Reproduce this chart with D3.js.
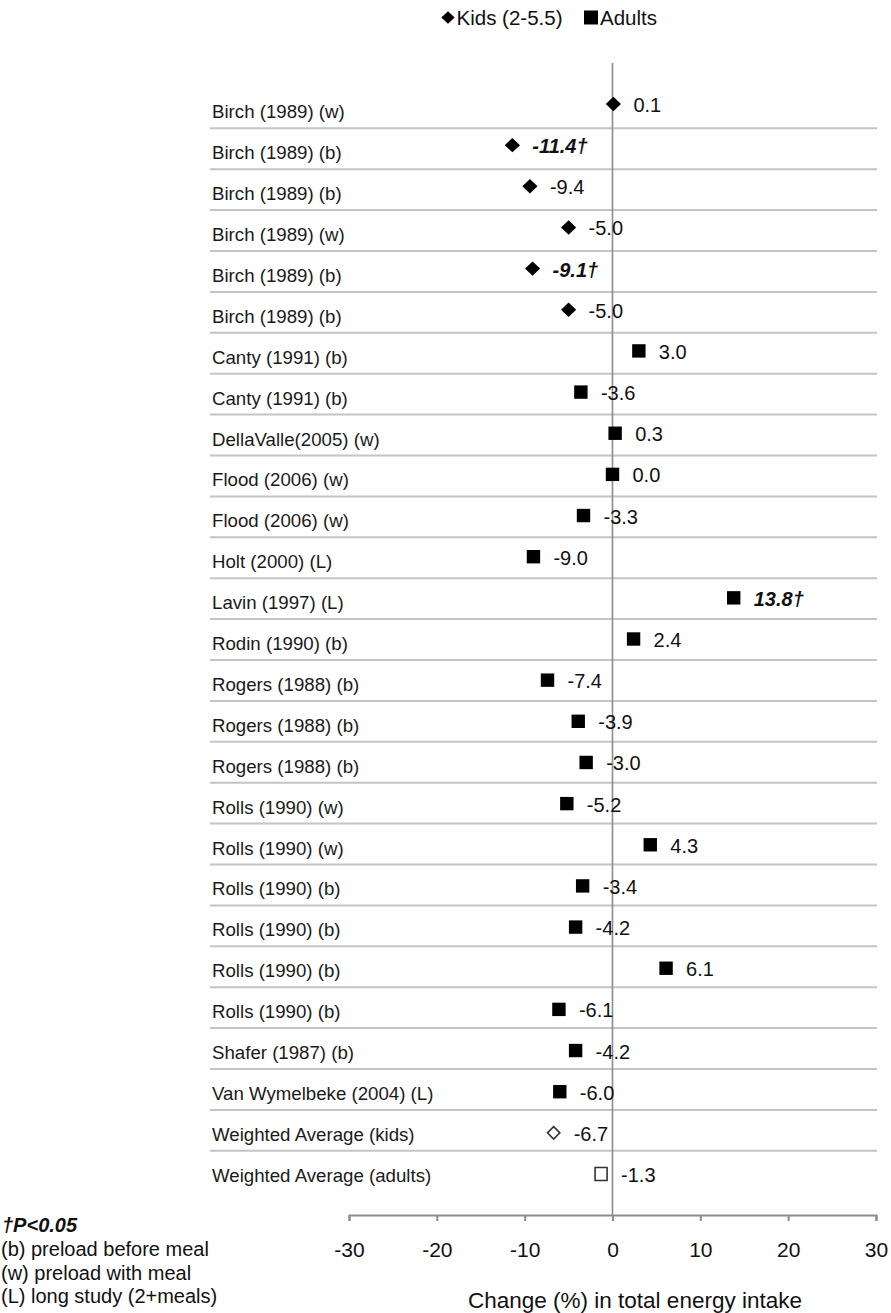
<!DOCTYPE html>
<html>
<head>
<meta charset="utf-8">
<script src="https://cdn.jsdelivr.net/npm/d3@7"></script>
<style>
  html, body { margin: 0; padding: 0; background: #fff; }
  svg { display: block; font-family: "Liberation Sans", Arial, Helvetica, sans-serif; }
</style>
</head>
<body>
<svg id="chart" width="891" height="1313"></svg>
<script>
// Study rows, top to bottom
const studies = [
  "Birch (1989) (w)", "Birch (1989) (b)", "Birch (1989) (b)", "Birch (1989) (w)",
  "Birch (1989) (b)", "Birch (1989) (b)", "Canty (1991) (b)", "Canty (1991) (b)",
  "DellaValle(2005) (w)", "Flood (2006) (w)", "Flood (2006) (w)", "Holt (2000) (L)",
  "Lavin (1997) (L)", "Rodin (1990) (b)", "Rogers (1988) (b)", "Rogers (1988) (b)",
  "Rogers (1988) (b)", "Rolls (1990) (w)", "Rolls (1990) (w)", "Rolls (1990) (b)",
  "Rolls (1990) (b)", "Rolls (1990) (b)", "Rolls (1990) (b)", "Shafer (1987) (b)",
  "Van Wymelbeke (2004) (L)", "Weighted Average (kids)", "Weighted Average (adults)"
];

// Change (%) in total energy intake
const kidsChange   = [0.1, -11.4, -9.4, -5.0, -9.1, -5.0];
const adultsChange = [3.0, -3.6, 0.3, 0.0, -3.3, -9.0, 13.8, 2.4, -7.4, -3.9,
                      -3.0, -5.2, 4.3, -3.4, -4.2, 6.1, -6.1, -4.2, -6.0];
const kidsAverage   = -6.7;
const adultsAverage = -1.3;

// Rows with P<0.05
const significantRows = [1, 4, 12];

const xTicks = [-30, -20, -10, 0, 10, 20, 30];
const legendItems = ["Kids (2-5.5)", "Adults"];
const notes = ["(b) preload before meal", "(w) preload with meal", "(L) long study (2+meals)"];

// Assemble one record per row
const rows = [];
kidsChange.forEach((v, i) => rows.push({ row: i, value: v, group: "kids", filled: true }));
adultsChange.forEach((v, i) => rows.push({ row: kidsChange.length + i, value: v, group: "adults", filled: true }));
rows.push({ row: kidsChange.length + adultsChange.length, value: kidsAverage, group: "kids", filled: false });
rows.push({ row: kidsChange.length + adultsChange.length + 1, value: adultsAverage, group: "adults", filled: false });
rows.forEach(d => d.significant = significantRows.includes(d.row));

const svg = d3.select("#chart");
svg.append("rect").attr("width", 891).attr("height", 1313).attr("fill", "#fff");

const x = d3.scaleLinear().domain([-30, 30]).range([349, 876]);
const rowIdx = d3.range(studies.length);
const band = d3.scaleBand().domain(rowIdx).range([87.4, 1191.7]);
const yMark = d3.scalePoint().domain(rowIdx).range([104, 1174]);
const axisY = 1215;

const fmt = v => v.toFixed(1);

// Horizontal separators between study rows
svg.append("g").selectAll("line")
  .data(rowIdx.slice(1))
  .join("line")
  .attr("x1", 210).attr("x2", 877)
  .attr("y1", d => band(d)).attr("y2", d => band(d))
  .attr("stroke", "#c4c4c4").attr("stroke-width", 2);

// Zero reference line
svg.append("line")
  .attr("x1", x(0)).attr("x2", x(0))
  .attr("y1", 63).attr("y2", axisY)
  .attr("stroke", "#8c8c8c").attr("stroke-width", 1.6);

// Study labels
svg.append("g").selectAll("text")
  .data(studies)
  .join("text")
  .attr("x", 212)
  .attr("y", (d, i) => band(i) + band.bandwidth() / 2 + 4)
  .attr("dy", "0.35em")
  .attr("font-size", 18.67)
  .attr("fill", "#1a1a1a")
  .text(d => d);

// X axis
const axis = d3.axisBottom(x)
  .tickValues(xTicks)
  .tickSize(6)
  .tickSizeOuter(6)
  .tickFormat(d => String(d));
const gx = svg.append("g").attr("transform", `translate(0,${axisY})`).call(axis);
gx.select(".domain").attr("stroke", "#8c8c8c").attr("stroke-width", 2);
gx.selectAll(".tick line").attr("stroke", "#8c8c8c").attr("stroke-width", 2);
gx.selectAll(".tick text")
  .attr("y", 35).attr("dy", "0.35em")
  .attr("font-size", 21)
  .attr("font-family", "\"Liberation Sans\", Arial, sans-serif")
  .attr("fill", "#111");

svg.append("text")
  .attr("x", 635).attr("y", 1300).attr("dy", "0.35em")
  .attr("text-anchor", "middle")
  .attr("font-size", 22.5)
  .attr("fill", "#111")
  .text("Change (%) in total energy intake");

// Marker shapes
const diamond = (r, ry) => `M0,${-ry}L${r},0L0,${ry}L${-r},0Z`;

const marks = svg.append("g").selectAll("path")
  .data(rows)
  .join("path")
  .attr("transform", d => `translate(${x(d.value)},${yMark(d.row)})`)
  .attr("d", d => {
    if (d.group === "kids") return d.filled ? diamond(7.6, 7.2) : diamond(6.2, 6.2);
    return d.filled ? "M-6.7,-6.7H6.7V6.7H-6.7Z" : "M-6,-6.5H6V6.5H-6Z";
  })
  .attr("fill", d => d.filled ? "#000" : "#fff")
  .attr("stroke", d => d.filled ? "none" : "#333")
  .attr("stroke-width", 1.6);

// Value labels
svg.append("g").selectAll("text")
  .data(rows)
  .join("text")
  .attr("x", d => x(d.value) + 20)
  .attr("y", d => yMark(d.row) + 1)
  .attr("dy", "0.35em")
  .attr("font-size", 20)
  .attr("font-weight", d => d.significant ? "bold" : "normal")
  .attr("font-style", d => d.significant ? "italic" : "normal")
  .attr("fill", "#111")
  .text(d => fmt(d.value) + (d.significant ? "\u2020" : ""));

// Legend
const legend = svg.append("g");
legend.append("path").attr("transform", "translate(448,17.5)").attr("d", diamond(6.7, 6.2)).attr("fill", "#000");
legend.append("text").attr("x", 456.5).attr("y", 18).attr("dy", "0.35em")
  .attr("font-size", 20.5).attr("fill", "#111").text(legendItems[0]);
legend.append("path").attr("transform", "translate(591,17.5)").attr("d", "M-7,-7H7V7H-7Z").attr("fill", "#000");
legend.append("text").attr("x", 600).attr("y", 18).attr("dy", "0.35em")
  .attr("font-size", 20.5).attr("fill", "#111").text(legendItems[1]);

// Notes
const notesG = svg.append("g");
notesG.append("text").attr("x", 2).attr("y", 1225).attr("dy", "0.35em")
  .attr("font-size", 20).attr("font-weight", "bold").attr("font-style", "italic")
  .attr("fill", "#111").text("\u2020P<0.05");
notesG.selectAll("text.note")
  .data(notes)
  .join("text")
  .attr("class", "note")
  .attr("x", 1).attr("y", (d, i) => 1249 + i * 23.7).attr("dy", "0.35em")
  .attr("font-size", 20).attr("fill", "#111")
  .text(d => d);
</script>
</body>
</html>
